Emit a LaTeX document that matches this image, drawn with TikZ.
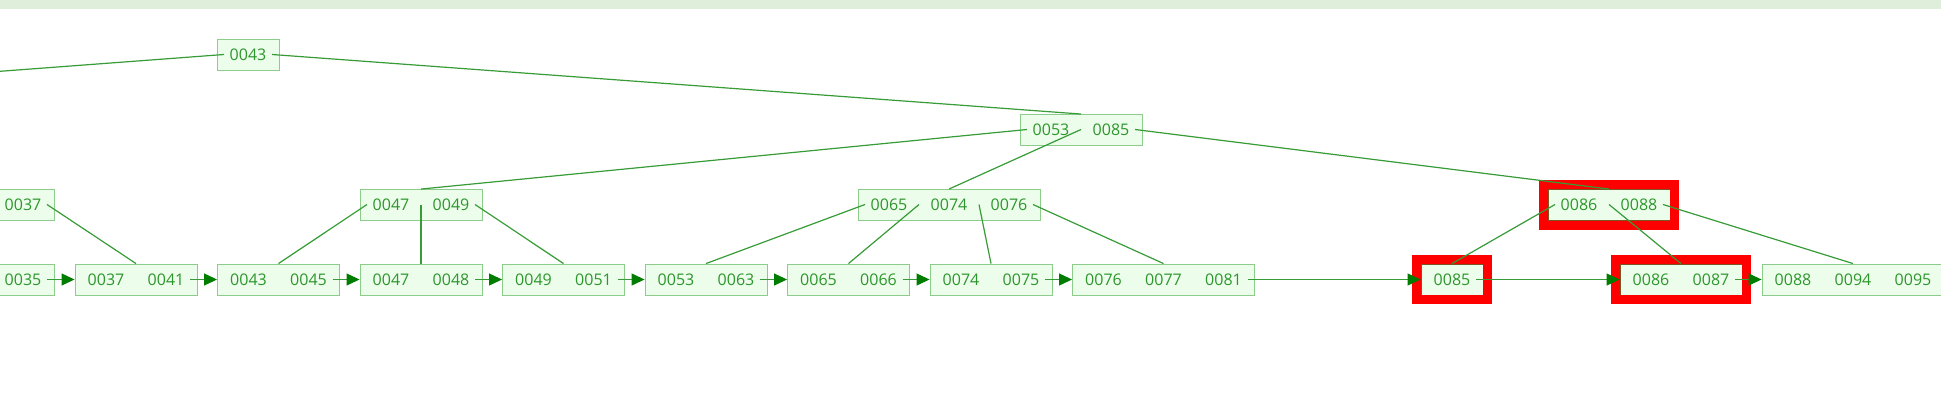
\documentclass[tikz,border=0pt]{standalone}
\usepackage{fontspec}
\setmainfont{Open Sans}
\usetikzlibrary{arrows.meta,calc,fit}
\definecolor{bandgreen}{RGB}{222,238,218}
\definecolor{boxfill}{RGB}{237,253,235}
\definecolor{boxline}{RGB}{140,205,140}
\definecolor{keygreen}{RGB}{45,150,45}
\definecolor{linkgreen}{RGB}{55,155,55}
\definecolor{tipgreen}{RGB}{0,125,0}
\definecolor{hlline}{RGB}{125,85,35}

\begin{document}
\begin{tikzpicture}[x=1pt,y=-1pt,
  box/.style={draw=boxline, fill=boxfill, line width=0.9pt, minimum height=31pt, inner sep=0pt},
  hlbox/.style={box, draw=hlline},
  key/.style={text=keygreen, font=\fontsize{16}{19}\selectfont, inner xsep=5.5pt, inner ysep=0pt},
  link/.style={draw=linkgreen, line width=1.2pt},
  nextleaf/.style={link, -{Triangle[length=13pt,width=12pt,color=tipgreen]}},
  redframe/.style={draw=red, line width=9pt, inner sep=4.5pt}]
\useasboundingbox (0,0) rectangle (1941,412);
\clip (0,0) rectangle (1941,412);
\fill[bandgreen] (0,0) rectangle (1941,9.5);

% root
\node[box, minimum width=62pt] (R) at (248,55) {};
\node[key] (r43) at (248,54.5) {0043};
\coordinate (I0) at (-40,74.3);

% level 1
\node[box, minimum width=122pt] (I1) at (1081,130) {};
\node[key] (i53) at (1051,129.5) {0053};
\node[key] (i85) at (1111,129.5) {0085};

% level 2
\node[box, minimum width=122pt] (N0) at (-7,205) {};
\node[key] (n37) at (23,204.5) {0037};
\node[box, minimum width=122pt] (N1) at (421,205) {};
\node[key] (n47) at (391,204.5) {0047};
\node[key] (n49) at (451,204.5) {0049};
\node[box, minimum width=182pt] (N2) at (949,205) {};
\node[key] (n65) at (889,204.5) {0065};
\node[key] (n74) at (949,204.5) {0074};
\node[key] (n76) at (1009,204.5) {0076};
\node[hlbox, minimum width=122pt] (N3) at (1609,205) {};
\node[key] (n86) at (1579,204.5) {0086};
\node[key] (n88) at (1639,204.5) {0088};

% leaves
\node[box, minimum width=122pt] (L0) at (-7,279.5) {};
\node[key] (l35) at (23,279.5) {0035};
\node[box, minimum width=122pt] (L1) at (136,279.5) {};
\node[key] (l37) at (106,279.5) {0037};
\node[key] (l41) at (166,279.5) {0041};
\node[box, minimum width=122pt] (L2) at (278.5,279.5) {};
\node[key] (l43) at (248.5,279.5) {0043};
\node[key] (l45) at (308.5,279.5) {0045};
\node[box, minimum width=122pt] (L3) at (421,279.5) {};
\node[key] (l47) at (391,279.5) {0047};
\node[key] (l48) at (451,279.5) {0048};
\node[box, minimum width=122pt] (L4) at (563.5,279.5) {};
\node[key] (l49) at (533.5,279.5) {0049};
\node[key] (l51) at (593.5,279.5) {0051};
\node[box, minimum width=122pt] (L5) at (706,279.5) {};
\node[key] (l53) at (676,279.5) {0053};
\node[key] (l63) at (736,279.5) {0063};
\node[box, minimum width=122pt] (L6) at (848.5,279.5) {};
\node[key] (l65) at (818.5,279.5) {0065};
\node[key] (l66) at (878.5,279.5) {0066};
\node[box, minimum width=122pt] (L7) at (991,279.5) {};
\node[key] (l74) at (961,279.5) {0074};
\node[key] (l75) at (1021,279.5) {0075};
\node[box, minimum width=182pt] (L8) at (1163.5,279.5) {};
\node[key] (l76) at (1103.5,279.5) {0076};
\node[key] (l77) at (1163.5,279.5) {0077};
\node[key] (l81) at (1223.5,279.5) {0081};
\node[hlbox, minimum width=62pt] (L9) at (1452,279.5) {};
\node[key] (l85) at (1452,279.5) {0085};
\node[hlbox, minimum width=122pt] (L10) at (1681,279.5) {};
\node[key] (l86) at (1651,279.5) {0086};
\node[key] (l87) at (1711,279.5) {0087};
\node[box, minimum width=182pt] (L11) at (1853,279.5) {};
\node[key] (l88) at (1793,279.5) {0088};
\node[key] (l94) at (1853,279.5) {0094};
\node[key] (l95) at (1913,279.5) {0095};

% highlighted search path
\node[redframe, fit=(N3)] (hN3) {};
\node[redframe, fit=(L9)] (hL9) {};
\node[redframe, fit=(L10)] (hL10) {};

% child pointers
\path[link] (r43.west) -- (I0);
\path[link] (r43.east) -- (I1.north);
\path[link] (i53.west) -- (N1.north);
\path[link] ($(i53)!.5!(i85)$) -- (N2.north);
\path[link] (i85.east) -- (N3.north);
\path[link] (n37.east) -- (L1.north);
\path[link] (n47.west) -- (L2.north);
\path[link] ($(n47)!.5!(n49)$) -- (L3.north);
\path[link] (n49.east) -- (L4.north);
\path[link] (n65.west) -- (L5.north);
\path[link] ($(n65)!.5!(n74)$) -- (L6.north);
\path[link] ($(n74)!.5!(n76)$) -- (L7.north);
\path[link] (n76.east) -- (L8.north);
\path[link] (n86.west) -- (L9.north);
\path[link] ($(n86)!.5!(n88)$) -- (L10.north);
\path[link] (n88.east) -- (L11.north);

% leaf chain
\path[nextleaf] (l35.east) -- (L1.west);
\path[nextleaf] (l41.east) -- (L2.west);
\path[nextleaf] (l45.east) -- (L3.west);
\path[nextleaf] (l48.east) -- (L4.west);
\path[nextleaf] (l51.east) -- (L5.west);
\path[nextleaf] (l63.east) -- (L6.west);
\path[nextleaf] (l66.east) -- (L7.west);
\path[nextleaf] (l75.east) -- (L8.west);
\path[nextleaf] (l81.east) -- (L9.west);
\path[nextleaf] (l85.east) -- (L10.west);
\path[nextleaf] (l87.east) -- (L11.west);
\end{tikzpicture}
\end{document}
